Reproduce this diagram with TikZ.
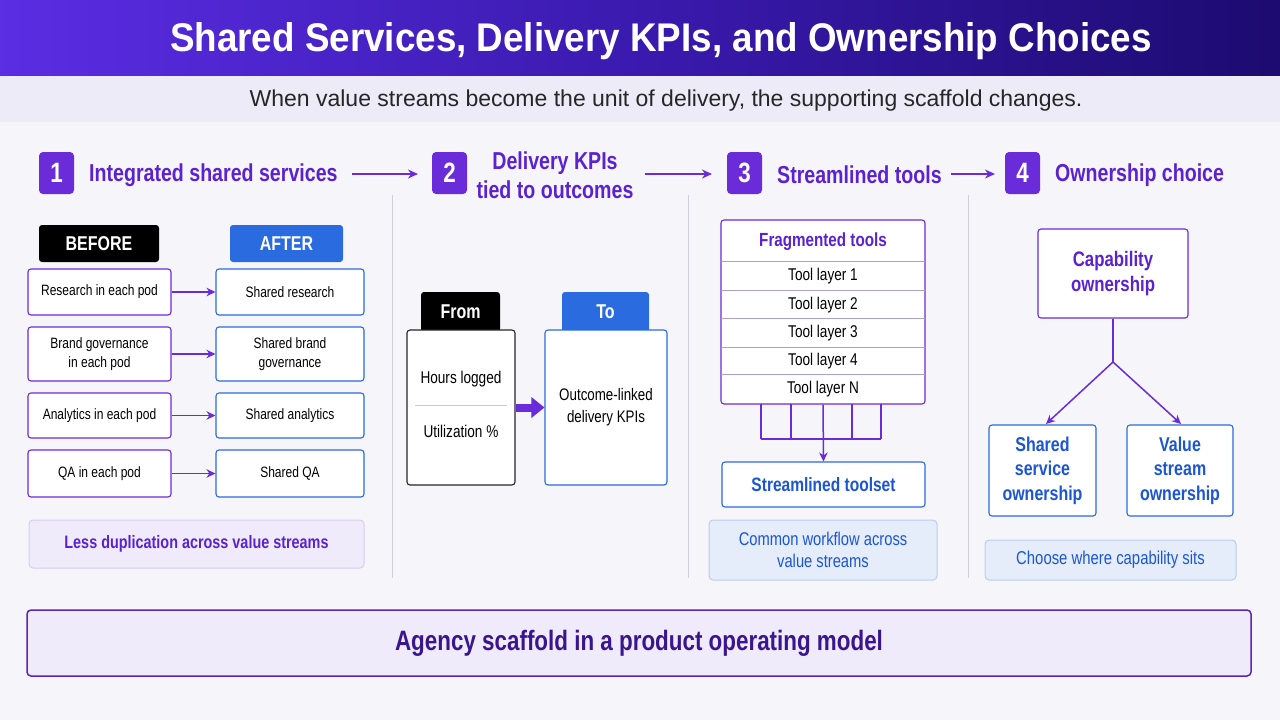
\documentclass[tikz,border=0pt]{standalone}
\usepackage{fontspec}
\setmainfont[FakeStretch=0.8]{Liberation Sans}
\newfontfamily\titlefont[FakeStretch=0.92]{Liberation Sans}
\newfontfamily\plainfont{Liberation Sans}
\usetikzlibrary{arrows.meta}
\definecolor{bgc}{HTML}{F6F6FA}
\definecolor{band}{HTML}{EEEBF8}
\definecolor{purp}{HTML}{6A2BD9}
\definecolor{ptext}{HTML}{5A22D0}
\definecolor{blu}{HTML}{2A6BE0}
\definecolor{btext}{HTML}{1C56D0}
\definecolor{divc}{HTML}{CFCFDC}
\definecolor{lav}{HTML}{EFEBFA}
\definecolor{lavb}{HTML}{D6CCF2}
\definecolor{lblue}{HTML}{E5EDFA}
\definecolor{lblueb}{HTML}{B9CDF0}
\definecolor{dpurp}{HTML}{3A158F}
\definecolor{tl}{HTML}{5B2DE3}
\definecolor{tm}{HTML}{3A1AAE}
\definecolor{tr}{HTML}{1C0B70}
\newcommand\fs[2]{\fontsize{#1}{#2}\selectfont}
\begin{document}
\begin{tikzpicture}[x=1pt,y=-1pt,
  box/.style={draw, rounded corners=3pt, fill=white, line width=1.1pt, align=center, inner sep=0pt, text=black, font=\fs{15}{19}},
  pbox/.style={box, draw=purp},
  bbox/.style={box, draw=blu},
  badge/.style={fill=purp, rounded corners=4pt, minimum width=35pt, minimum height=42pt, inner sep=0pt, text=white, font=\bfseries\fs{28}{30}},
  head/.style={text=ptext, font=\bfseries\fs{24.5}{29}, align=left, inner sep=0pt},
  tab/.style={rounded corners=3pt, inner sep=0pt, text=white, font=\bfseries\fs{20}{22}},
  flow/.style={draw=purp, line width=1.6pt, -{Stealth[length=10pt,width=9pt]}},
  small/.style={draw=purp, line width=1.5pt, -{Stealth[length=9pt,width=8.5pt]}},
  divider/.style={draw=divc, line width=1pt},
  note/.style={rounded corners=4pt, line width=1pt, inner sep=0pt, align=center}
]
\useasboundingbox (0,0) rectangle (1280,720);
\fill[bgc] (0,0) rectangle (1280,720);
\shade[left color=tl, right color=tr, middle color=tm] (0,0) rectangle (1280,76);
\fill[band] (0,76) rectangle (1280,122);
\node[text=white, font=\titlefont\bfseries\fs{40}{42}, inner sep=0pt] (title) at (661,41) {Shared Services, Delivery KPIs, and Ownership Choices};
\node[text=black!85, font=\plainfont\fs{23}{25}, inner sep=0pt] (sub) at (666,101) {When value streams become the unit of delivery, the supporting scaffold changes.};

% headers
\node[badge] (b1) at (56.5,173) {1};
\node[head, anchor=west] (h1) at (89,175) {Integrated shared services};
\node[badge] (b2) at (449.5,173) {2};
\node[head, align=center] (h2) at (555,175) {Delivery KPIs\\tied to outcomes};
\node[badge] (b3) at (744.5,173) {3};
\node[head, anchor=west] (h3) at (777,175) {Streamlined tools};
\node[badge] (b4) at (1022.5,173) {4};
\node[head, anchor=west] (h4) at (1055,175) {Ownership choice};
\coordinate (a1s) at (352,174);
\coordinate (a1e) at (418,174);
\coordinate (a2s) at (645,174);
\coordinate (a2e) at (712,174);
\coordinate (a3s) at (951,174);
\coordinate (a3e) at (995,174);
\draw[flow] (a1s) -- (a1e);
\draw[flow] (a2s) -- (a2e);
\draw[flow] (a3s) -- (a3e);

% dividers
\draw[divider] (392,195) -- (392,578);
\draw[divider] (688,195) -- (688,578);
\draw[divider] (968,195) -- (968,578);

% column 1
\node[tab, fill=black, minimum width=120pt, minimum height=37pt] (before) at (99,243.5) {BEFORE};
\node[tab, fill=blu, minimum width=113pt, minimum height=37pt] (after) at (286.5,243.5) {AFTER};
\foreach \n/\y/\h/\l/\r in {r1/292/46/{Research in each pod}/{Shared research},
  r2/354/54/{Brand governance\\in each pod}/{Shared brand\\governance},
  r3/415.5/45/{Analytics in each pod}/{Shared analytics},
  r4/473.5/47/{QA in each pod}/{Shared QA}}{
  \node[pbox, minimum width=143pt, minimum height=\h pt] (\n l) at (99.5,\y) {\l};
  \node[bbox, minimum width=148pt, minimum height=\h pt] (\n r) at (290,\y) {\r};
  \draw[small] (\n l.east) -- (\n r.west);
}
\node[note, fill=lav, draw=lavb, minimum width=335pt, minimum height=48pt, text=ptext, font=\bfseries\fs{18}{21}] (less) at (196.5,544) {Less duplication across value streams};

% column 2
\node[tab, fill=black, minimum width=79pt, minimum height=40pt] (from) at (460.5,312) {From};
\node[tab, fill=blu, minimum width=87pt, minimum height=40pt] (to) at (605.5,312) {To};
\node[box, draw=black!85, minimum width=108pt, minimum height=155pt] (fromb) at (461,407.5) {};
\node[box, draw=blu, minimum width=122pt, minimum height=155pt, font=\fs{16.7}{22}] (tob) at (606,407.5) {Outcome-linked\\delivery KPIs};
\node[font=\fs{17}{19}, inner sep=0pt] (hours) at (461,379) {Hours logged};
\node[font=\fs{17}{19}, inner sep=0pt] (util) at (461,431) {Utilization \%};
\draw[draw=divc!80!black!60, line width=0.8pt] (415,405) -- (507,405);
\draw[draw=purp, line width=8pt, -{Triangle[length=13pt,width=20pt]}] (fromb.east) -- (tob.west);

% column 3
\node[pbox, minimum width=204pt, minimum height=184pt] (frag) at (823,312) {};
\node[text=ptext, font=\bfseries\fs{19}{22}, inner sep=0pt] (fragt) at (823,242) {Fragmented tools};
\foreach \y in {261,290,318,347,374}{\draw[draw=purp!35!gray!60, line width=0.8pt] (721,\y) -- (925,\y);}
\foreach \y/\t [count=\i] in {276/1,305/2,333/3,361/4,389/N}{
  \node[font=\fs{17}{19}, inner sep=0pt] (tl\i) at (823,\y) {Tool layer \t};
}
\foreach \x in {761,791,852,881}{\draw[draw=purp, line width=1.3pt] (\x,404) -- (\x,439);}
\draw[draw=purp, line width=1.3pt] (761,439) -- (881,439);
\node[bbox, minimum width=203pt, minimum height=45pt, text=btext, font=\bfseries\fs{19.4}{22}] (tools) at (823.5,484.5) {Streamlined toolset};
\draw[small] (frag.south) -- (tools.north);
\node[note, fill=lblue, draw=lblueb, minimum width=228pt, minimum height=60pt, text=btext, font=\fs{18.4}{22}] (common) at (823,550) {Common workflow across\\value streams};

% column 4
\node[pbox, minimum width=150pt, minimum height=89pt, text=ptext, font=\bfseries\fs{21}{25}] (cap) at (1113,273.5) {Capability\\ownership};
\node[bbox, minimum width=107pt, minimum height=91pt, text=btext, font=\bfseries\fs{20}{24.5}] (ssown) at (1042.5,470.5) {Shared\\service\\ownership};
\node[bbox, minimum width=106pt, minimum height=91pt, text=btext, font=\bfseries\fs{20}{24.5}] (vsown) at (1180,470.5) {Value\\stream\\ownership};
\coordinate (split) at (1113,362);
\draw[draw=purp, line width=1.3pt] (cap.south) -- (split);
\draw[small] (split) -- (1046,424);
\draw[small] (split) -- (1181,424);
\node[note, fill=lblue, draw=lblueb, minimum width=251pt, minimum height=40pt, text=btext, font=\fs{18.6}{21}] (choose) at (1110.5,560) {Choose where capability sits};

% bottom banner
\node[note, fill=lav, draw=purp!85!black, line width=1.5pt, minimum width=1224pt, minimum height=66pt, text=dpurp, font=\bfseries\fs{28}{30}] (banner) at (639,643) {Agency scaffold in a product operating model};
\end{tikzpicture}
\end{document}
